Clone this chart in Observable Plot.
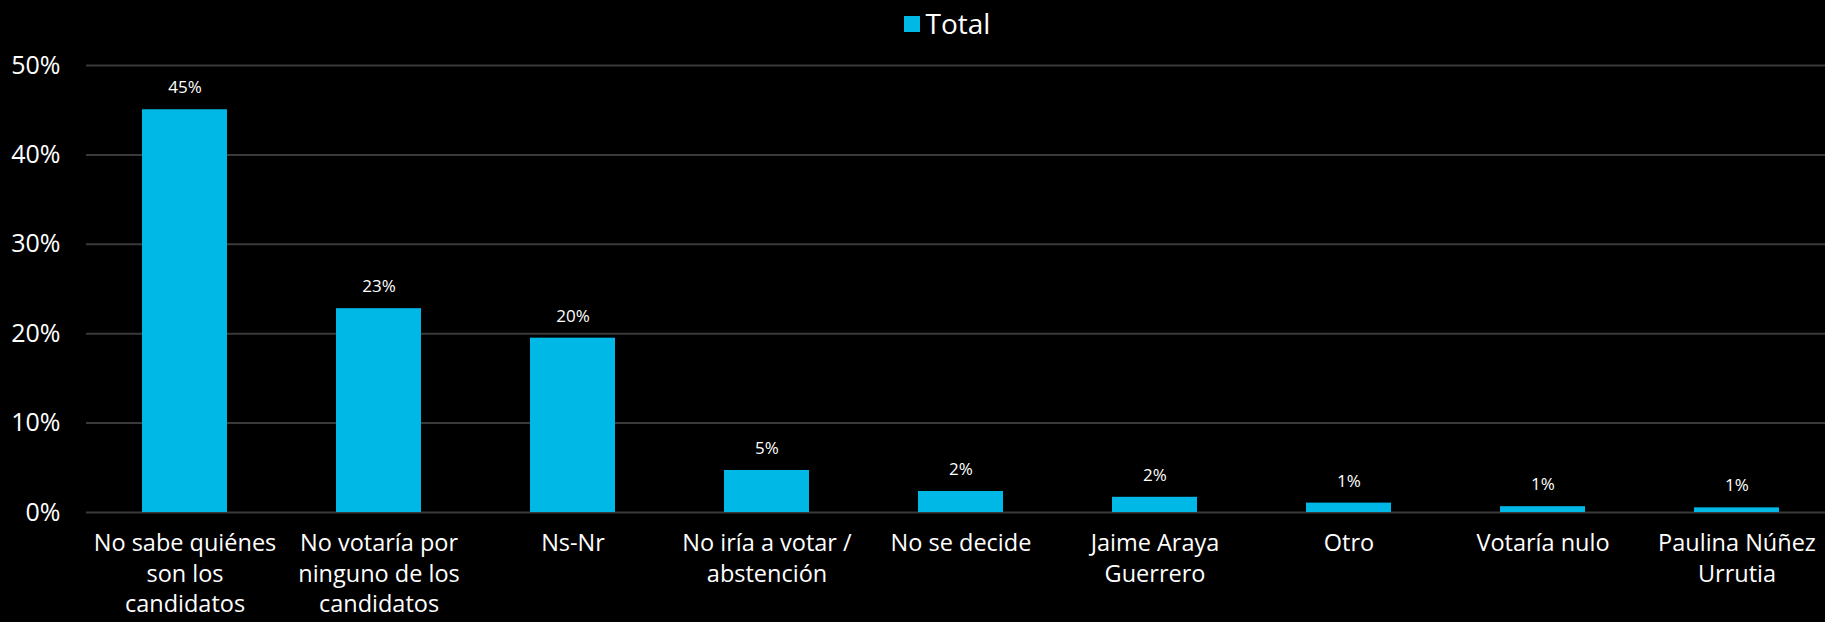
<!DOCTYPE html>
<html>
<head>
<meta charset="utf-8">
<script src="https://cdn.jsdelivr.net/npm/d3@7"></script>
<script src="https://cdn.jsdelivr.net/npm/@observablehq/plot@0.6"></script>
<style>
  html, body { margin: 0; padding: 0; background: #000; overflow: hidden; }
  #legend { height: 45px; display: flex; justify-content: center; align-items: center; font-family: "Open Sans", sans-serif; font-size: 28px; color: #fff; padding-left: 69px; box-sizing: border-box; }
  #legend .sw { width: 16px; height: 16px; background: #00B8E6; margin-right: 6px; margin-top: 2px; }
  #chart svg { display: block; }
</style>
</head>
<body>
<div id="legend"><span class="sw"></span><span>Total</span></div>
<div id="chart"></div>
<script>
const categories = [
  "No sabe quiénes son los candidatos",
  "No votaría por ninguno de los candidatos",
  "Ns-Nr",
  "No iría a votar / abstención",
  "No se decide",
  "Jaime Araya Guerrero",
  "Otro",
  "Votaría nulo",
  "Paulina Núñez Urrutia"
];
const tickLabels = [
  "No sabe quiénes\nson los\ncandidatos",
  "No votaría por\nninguno de los\ncandidatos",
  "Ns-Nr",
  "No iría a votar /\nabstención",
  "No se decide",
  "Jaime Araya\nGuerrero",
  "Otro",
  "Votaría nulo",
  "Paulina Núñez\nUrrutia"
];
const values = [45.05, 22.8, 19.5, 4.7, 2.35, 1.7, 1.05, 0.65, 0.52];
const valueLabels = ["45%", "23%", "20%", "5%", "2%", "2%", "1%", "1%", "1%"];
const yTicks = [0, 10, 20, 30, 40, 50];

const data = categories.map((c, i) => ({category: c, value: values[i], label: valueLabels[i]}));
const labelOf = new Map(categories.map((c, i) => [c, tickLabels[i]]));

const chart = Plot.plot({
  width: 1825,
  height: 577,
  marginTop: 20,
  marginBottom: 110,
  marginLeft: 86,
  marginRight: 0,
  style: { background: "#000", color: "#fff", fontFamily: "Open Sans, sans-serif" },
  x: { domain: categories, range: [86, 1836], paddingInner: 0.56, paddingOuter: 0.28, label: null },
  y: { domain: [0, 50], label: null },
  marks: [
    Plot.ruleY(yTicks, { stroke: "#3a3a3a", strokeWidth: 2 }),
    Plot.barY(data, { x: "category", y: "value", fill: "#00B8E6" }),
    Plot.text(data, { x: "category", y: "value", text: "label", dy: -22, fill: "#fff", fontSize: 17 }),
    Plot.axisY({ ticks: yTicks, tickFormat: d => d + "%", tickSize: 0, tickPadding: 26, fontSize: 25, fill: "#fff", label: null }),
    Plot.axisX({ tickFormat: d => labelOf.get(d), tickSize: 0, tickPadding: 17, fontSize: 23.5, lineHeight: 1.3, fill: "#fff", label: null })
  ]
});
document.getElementById("chart").appendChild(chart);
</script>
</body>
</html>
